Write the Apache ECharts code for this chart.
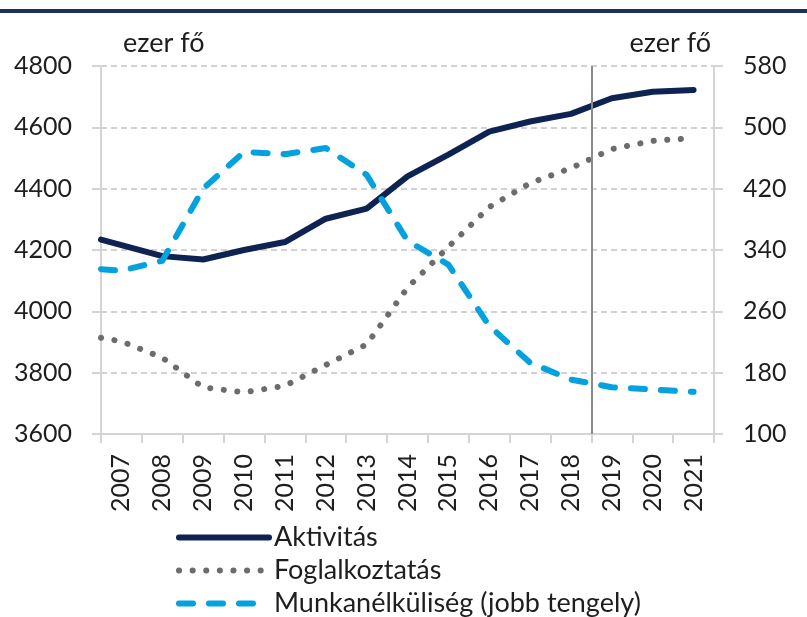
<!DOCTYPE html>
<html>
<head>
<meta charset="utf-8">
<script src="https://cdn.jsdelivr.net/npm/echarts@6/dist/echarts.min.js"></script>
<style>
html,body{margin:0;padding:0;background:#fff;}
#chart{width:807px;height:617px;}
</style>
</head>
<body>
<div id="chart"></div>
<script>
// Categories (x-axis tick labels)
const categories = ['2007','2008','2009','2010','2011','2012','2013','2014','2015','2016','2017','2018','2019','2020','2021'];
// Values (ezer fő), one per year
const aktivitas = [4216, 4180, 4169, 4200, 4226, 4302, 4335, 4440, 4511, 4586, 4619, 4644, 4695, 4716, 4722];
const foglalkoztatas = [3902, 3849, 3752, 3736, 3757, 3825, 3892, 4077, 4210, 4340, 4418, 4467, 4529, 4556, 4565];
const munkanelkuliseg = [313, 326, 420, 468, 465, 473, 438, 352, 321, 241, 193, 171, 161, 158, 155];
// Values where each line meets the left edge of the plot
const edgeX = 2006.5;
const edgeAktivitas = 4234;
const edgeFoglalkoztatas = 3914;
const edgeMunkanelkuliseg = 315;
// Axis tick settings
const leftTicks = {min: 3600, max: 4800, interval: 200};
const rightTicks = {min: 100, max: 580, interval: 80};
const forecastStart = 2018.5;

function build(edge, vals) {
  return [[edgeX, edge]].concat(vals.map((v, i) => [Number(categories[i]), v]));
}

const FONT = 'Lato';
const TXT = '#1e1e1e';
const AXC = '#d4d4d4';
const NUM = 25;
const WORD = 27;

const chart = echarts.init(document.getElementById('chart'), null, {renderer: 'canvas'});
chart.setOption({
  animation: false,
  backgroundColor: '#ffffff',
  textStyle: {fontFamily: FONT},
  grid: {left: 101, right: 93, top: 66, bottom: 183, containLabel: false},
  legend: {
    orient: 'vertical', left: 171, top: 519, height: 120,
    itemWidth: 90, itemHeight: 20, itemGap: 6,
    data: ['Aktivitás', 'Foglalkoztatás', 'Munkanélküliség (jobb tengely)'],
    textStyle: {fontFamily: FONT, fontSize: WORD, lineHeight: 27, color: TXT},
    itemStyle: {opacity: 0},
    lineStyle: {width: 'inherit'},
    selectedMode: false
  },
  xAxis: [
    {
      type: 'category', data: categories, boundaryGap: true,
      axisLine: {show: true, lineStyle: {color: AXC, width: 2}},
      axisTick: {show: true, length: 9, alignWithLabel: false, lineStyle: {color: AXC, width: 2}},
      axisLabel: {rotate: 90, margin: 20, fontFamily: FONT, fontSize: NUM, color: TXT, interval: 0},
      splitLine: {show: false}
    },
    {
      type: 'value', min: edgeX, max: 2021.5, show: false,
      splitLine: {show: false}
    }
  ],
  yAxis: [
    {
      type: 'value', position: 'left', min: leftTicks.min, max: leftTicks.max, interval: leftTicks.interval,
      axisLine: {show: true, lineStyle: {color: AXC, width: 2}},
      axisTick: {show: true, length: 9, lineStyle: {color: AXC, width: 2}},
      axisLabel: {margin: 29, fontFamily: FONT, fontSize: NUM, color: TXT, formatter: v => String(v)},
      splitLine: {show: true, lineStyle: {color: '#c4c4c4', width: 1.5, type: [6, 4]}}
    },
    {
      type: 'value', position: 'right', min: rightTicks.min, max: rightTicks.max, interval: rightTicks.interval,
      axisLine: {show: true, lineStyle: {color: AXC, width: 2}},
      axisTick: {show: true, length: 9, lineStyle: {color: AXC, width: 2}},
      axisLabel: {margin: 29, fontFamily: FONT, fontSize: NUM, color: TXT, formatter: v => String(v)},
      splitLine: {show: false}
    }
  ],
  graphic: [
    {type: 'rect', left: 0, top: 9, shape: {width: 807, height: 4}, style: {fill: '#1b2f5b'}},
    {type: 'text', x: 123, y: 43, style: {text: 'ezer fő', font: WORD + 'px ' + FONT, fill: TXT, textAlign: 'left', textVerticalAlign: 'middle'}},
    {type: 'text', x: 711, y: 43, style: {text: 'ezer fő', font: WORD + 'px ' + FONT, fill: TXT, textAlign: 'right', textVerticalAlign: 'middle'}}
  ],
  series: [
    {
      name: 'forecast', type: 'line', xAxisIndex: 1, yAxisIndex: 0, data: [], z: 1,
      markLine: {
        silent: true, symbol: 'none', label: {show: false},
        lineStyle: {color: '#8a8a8a', width: 2, type: 'solid'},
        data: [{xAxis: forecastStart}]
      }
    },
    {
      name: 'Foglalkoztatás', type: 'line', xAxisIndex: 1, yAxisIndex: 0,
      data: build(edgeFoglalkoztatas, foglalkoztatas),
      symbol: 'none', z: 3,
      lineStyle: {color: '#6f6b6b', width: 6, type: [0.1, 13.5], cap: 'round', join: 'round'},
      itemStyle: {color: '#6f6b6b'}
    },
    {
      name: 'Aktivitás', type: 'line', xAxisIndex: 1, yAxisIndex: 0,
      data: build(edgeAktivitas, aktivitas),
      symbol: 'none', z: 4,
      lineStyle: {color: '#0e2352', width: 6, cap: 'round', join: 'round'},
      itemStyle: {color: '#0e2352'}
    },
    {
      name: 'Munkanélküliség (jobb tengely)', type: 'line', xAxisIndex: 1, yAxisIndex: 1,
      data: build(edgeMunkanelkuliseg, munkanelkuliseg),
      symbol: 'none', z: 5,
      lineStyle: {color: '#03a2df', width: 6, type: [14, 16], cap: 'round', join: 'round'},
      itemStyle: {color: '#03a2df'}
    }
  ]
});
</script>
</body>
</html>
